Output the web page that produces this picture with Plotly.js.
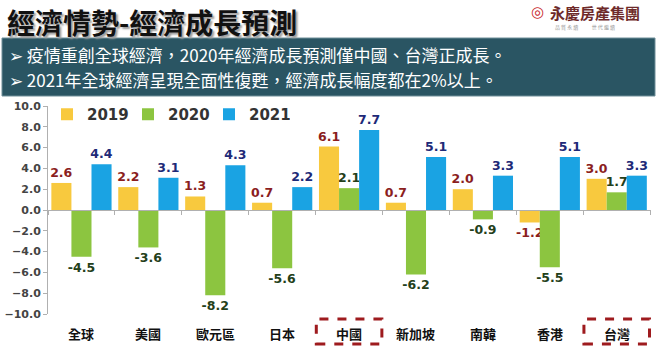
<!DOCTYPE html>
<html><head><meta charset="utf-8">
<script src="https://cdn.plot.ly/plotly-3.0.1.min.js"></script>
<style>html,body{margin:0;padding:0;background:#fff;}#c{width:656px;height:346px;}</style>
</head><body><div id="c"></div>
<script>
const categories = ['全球','美國','歐元區','日本','中國','新加坡','南韓','香港','台灣'];
const v2019 = [2.6, 2.2, 1.3, 0.7, 6.1, 0.7, 2.0, -1.2, 3.0];
const v2020 = [-4.5, -3.6, -8.2, -5.6, 2.1, -6.2, -0.9, -5.5, 1.7];
const v2021 = [4.4, 3.1, 4.3, 2.2, 7.7, 5.1, 3.3, 5.1, 3.3];
const seriesNames = ['2019','2020','2021'];
const titleText = '經濟情勢-經濟成長預測';
const bullets = ['疫情重創全球經濟，2020年經濟成長預測僅中國、台灣正成長。',
                 '2021年全球經濟呈現全面性復甦，經濟成長幅度都在2%以上。'];
const highlighted = ['中國','台灣'];
const logoText = '永慶房產集團';

const W = 656, H = 346, L = 48, R = 5, T = 106, B = 32;
const pw = W - L - R, ph = H - T - B;
const px = x => (x - L) / pw;
const py = y => (H - B - y) / ph;

const fmt = a => a.map(v => v.toFixed(1));
const cols = ['#F8C93E', '#8CC540', '#1AA3E3'];
const lblCols = ['#8B1E1E', '#24401A', '#1E2A78'];
const vals = [v2019, v2020, v2021];

const traces = vals.map((v, i) => ({
  type: 'bar', name: seriesNames[i], x: categories, y: v,
  marker: {color: cols[i]},
  text: fmt(v), textposition: 'outside', cliponaxis: false, constraintext: 'none',
  textfont: {family: 'DejaVu Sans', size: 12.5, color: lblCols[i], weight: 'bold'},
  hoverinfo: 'none'
}));

const annotations = [
  {xref:'paper', yref:'paper', x: px(5), y: py(0), xanchor:'left', yanchor:'top', showarrow:false,
   text: titleText, font:{family:'Noto Sans CJK TC', size:28, color:'#111', weight:'bold', shadow:'2px 2px 2px #9a9a9a'}},
  {xref:'paper', yref:'paper', x: px(537), y: py(12), xanchor:'center', yanchor:'middle', showarrow:false,
   text: '◎', font:{family:'DejaVu Sans', size:15, color:'#C8282A', weight:'bold'}},
  {xref:'paper', yref:'paper', x: px(548), y: py(12), xanchor:'left', yanchor:'middle', showarrow:false,
   text: logoText, font:{family:'Noto Sans CJK TC', size:15, color:'#6E2A2A', weight:'bold'}},
  {xref:'paper', yref:'paper', x: px(553), y: py(27), xanchor:'left', yanchor:'middle', showarrow:false,
   text: '品 質 永 續 　 　 世 代 繼 續', font:{family:'Noto Sans CJK TC', size:5, color:'#999'}},
];
bullets.forEach((b, i) => {
  annotations.push({xref:'paper', yref:'paper', x: px(7), y: py(54 + i*25), xanchor:'left', yanchor:'middle', showarrow:false,
    text: '➢ ' + b, font:{family:'Noto Sans CJK TC', size:17, color:'#FFFFFF'}});
});
categories.forEach(c => {
  annotations.push({xref:'x', yref:'paper', x: c, y: py(333), xanchor:'center', yanchor:'middle', showarrow:false,
    text: c, font:{family:'Noto Sans CJK TC', size:13, color:'#111', weight:'bold'}});
});

const shapes = [
  {type:'rect', xref:'paper', yref:'paper', x0: px(2), x1: px(655), y0: py(96), y1: py(38),
   fillcolor:'#2A5563', line:{color:'#6E8F99', width:1}, layer:'below'},
];
highlighted.forEach(c => {
  const i = categories.indexOf(c);
  shapes.push({type:'rect', xref:'x', yref:'paper', x0: i - 0.49, x1: i + 0.49, y0: py(344), y1: py(319),
    line:{color:'#9E1B1E', width:3, dash:'dash'}, fillcolor:'rgba(0,0,0,0)'});
});

const layout = {
  width: W, height: H,
  margin: {l: L, r: R, t: T, b: B, pad: 0},
  paper_bgcolor: '#fff', plot_bgcolor: '#fff',
  barmode: 'group', bargap: 0.1, bargroupgap: 0,
  showlegend: true,
  legend: {orientation:'h', x: px(47), y: py(98), xanchor:'left', yanchor:'top',
           entrywidth: 36, entrywidthmode: 'pixels', itemwidth: 30,
           font:{family:'DejaVu Sans', size:15, color:'#333', weight:'bold'}, bgcolor:'rgba(0,0,0,0)', traceorder:'normal'},
  xaxis: {type:'category', anchor:'free', position: 0.5, showline:true, linecolor:'#b0b0b0', linewidth:1,
          ticks:'outside', tickson:'boundaries', ticklen:4, tickcolor:'#b0b0b0',
          showticklabels:false, showgrid:false, zeroline:false, fixedrange:true},
  yaxis: {range:[-10,10], dtick:2, tickformat:'.1f', showline:true, linecolor:'#b0b0b0', linewidth:1,
          ticks:'outside', ticklen:4, tickcolor:'#b0b0b0', showgrid:false, zeroline:false,
          tickfont:{family:'DejaVu Sans', size:11, color:'#444', weight:'bold'}},
  annotations, shapes
};

Plotly.newPlot('c', traces, layout, {displayModeBar:false, staticPlot:true});
</script></body></html>
